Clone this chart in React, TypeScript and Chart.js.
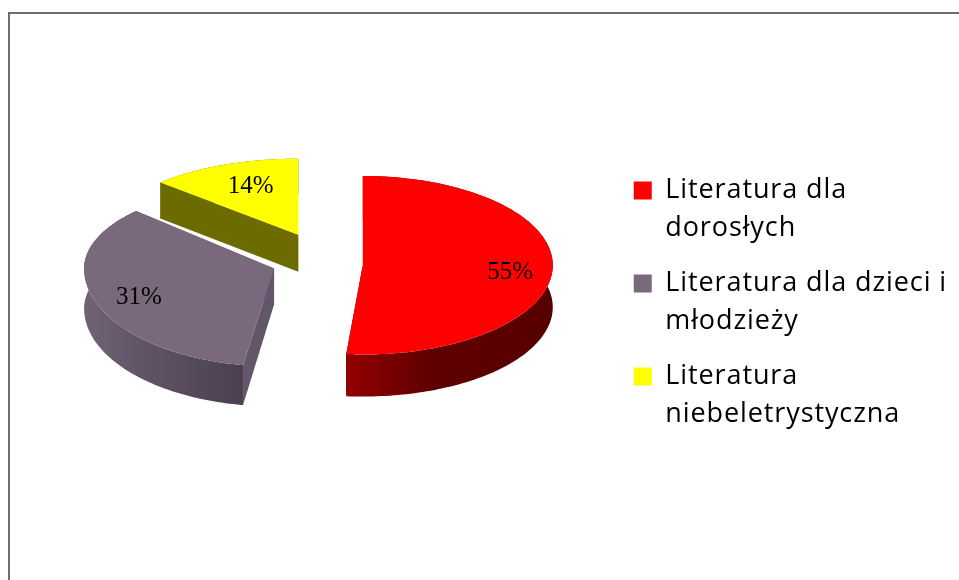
import React, { useEffect, useRef } from "react";
import { Chart, registerables } from "chart.js";

Chart.register(...registerables);

const categories = [
  ["Literatura dla", "dorosłych"],
  ["Literatura dla dzieci i", "młodzieży"],
  ["Literatura", "niebeletrystyczna"],
];
const shares = [55, 31, 14];
const topColors = ["#ff0000", "#7a697c", "#ffff00"];
const cutColors = ["#2a0000", "#62566a", "#6b6b00"];
const wallStart = ["#930000", "#706375", "#6b6b00"];
const wallMiddle = ["#600000", "#5f5264", "#6b6b00"];
const wallEnd = ["#560000", "#4a4050", "#6b6b00"];
const explode = [48, 43, 40];
const backSquash = [0.47, 0.44, 0.4];
const frontSquash = [0.47, 0.516, 0.47];
const labelRadius = [0.78, 0.77, 0.68];
const skewDeg = [4.7, 2.9, 3];
const twistDeg = [6.5, 5, 5];
const rimDepth = [42, 40, 36];
const apexDepth = [40, 36, 37];

const CENTER_SHIFT_Y = -48;
const OFFSET_SQUASH = 0.7;

const fakePie3d = {
  id: "fakePie3d",
  beforeDatasetsDraw(chart: any) {
    const ctx = chart.ctx;
    const arcs = chart.getDatasetMeta(0).data;
    const total = shares.reduce((a, b) => a + b, 0);
    const rad = Math.PI / 180;

    const model = (i: number) => {
      const a = arcs[i];
      const mid = (a.startAngle + a.endAngle) / 2;
      const ax = a.x + Math.cos(mid) * explode[i];
      const ay = a.y + CENTER_SHIFT_Y + Math.sin(mid) * explode[i] * OFFSET_SQUASH;
      const project = (angle: number, r = 1) => {
        const t = angle + Math.PI / 2;
        const w = t - skewDeg[i] * rad * (1 - Math.cos(t)) - twistDeg[i] * rad * Math.sin(2 * t);
        const up = -Math.cos(w);
        const sq = up < 0 ? backSquash[i] : frontSquash[i];
        return { x: ax + Math.sin(w) * a.outerRadius * r, y: ay + up * a.outerRadius * sq * r };
      };
      const rim: { x: number; y: number }[] = [];
      const steps = 120;
      for (let s = 0; s <= steps; s++) {
        rim.push(project(a.startAngle + ((a.endAngle - a.startAngle) * s) / steps));
      }
      return { a, mid, ax, ay, rim, project };
    };

    const poly = (pts: { x: number; y: number }[], fill: any) => {
      ctx.beginPath();
      pts.forEach((p, k) => (k ? ctx.lineTo(p.x, p.y) : ctx.moveTo(p.x, p.y)));
      ctx.closePath();
      ctx.fillStyle = fill;
      ctx.fill();
    };

    ctx.save();
    ctx.letterSpacing = "0px";
    [2, 1, 0].forEach((i) => {
      const { ax, ay, rim } = model(i);
      const apex = { x: ax, y: ay };
      const down = (p: { x: number; y: number }) => ({ x: p.x, y: p.y + rimDepth[i] });
      const apexLow = { x: ax, y: ay + apexDepth[i] };
      const first = rim[0];
      const last = rim[rim.length - 1];
      poly([apex, first, down(first), apexLow], cutColors[i]);
      poly([apex, last, down(last), apexLow], cutColors[i]);
      const front = rim.filter((p) => p.y > ay);
      const xs = (front.length ? front : rim).map((p) => p.x);
      const grad = ctx.createLinearGradient(Math.min(...xs), 0, Math.max(...xs), 0);
      grad.addColorStop(0, wallStart[i]);
      grad.addColorStop(0.4, wallMiddle[i]);
      grad.addColorStop(1, wallEnd[i]);
      poly([...rim, ...rim.map(down).reverse()], grad);
      poly([apex, ...rim], topColors[i]);
    });

    ctx.fillStyle = "#000000";
    ctx.font = '25px "Liberation Serif"';
    ctx.textAlign = "center";
    ctx.textBaseline = "middle";
    [0, 1, 2].forEach((i) => {
      const { mid, project } = model(i);
      const p = project(mid, labelRadius[i]);
      ctx.fillText(`${Math.round((shares[i] / total) * 100)}%`, p.x, p.y);
    });
    ctx.restore();
    return false;
  },
};

const legendSpacing = {
  id: "legendSpacing",
  beforeLayout(chart: any) {
    chart.ctx.letterSpacing = "0.9px";
  },
};

export default function App() {
  const ref = useRef<HTMLCanvasElement>(null);
  useEffect(() => {
    const chart = new Chart(ref.current as HTMLCanvasElement, {
      type: "pie",
      data: {
        labels: categories as any,
        datasets: [{ data: shares, backgroundColor: topColors, borderWidth: 0 }],
      },
      options: {
        responsive: false,
        animation: false,
        radius: 190,
        layout: { padding: { left: 14, right: 2, top: 36, bottom: 0 } },
        plugins: {
          tooltip: { enabled: false },
          legend: {
            position: "right",
            align: "center",
            labels: {
              boxWidth: 18,
              boxHeight: 18,
              padding: 17,
              color: "#000000",
              font: { family: '"Open Sans"', size: 27, lineHeight: 38 / 27 },
            },
          },
        },
      } as any,
      plugins: [fakePie3d as any, legendSpacing as any],
    });
    return () => chart.destroy();
  }, []);
  return (
    <div style={{ position: "fixed", left: 0, top: 0, width: 959, height: 580, overflow: "hidden", background: "#fff" }}>
      <div
        style={{
          position: "absolute",
          left: 8,
          top: 12,
          width: 980,
          height: 600,
          borderTop: "2px solid #6e6e6e",
          borderLeft: "2px solid #6e6e6e",
        }}
      />
      <canvas ref={ref} width={959} height={580} style={{ position: "absolute", left: 0, top: 0 }} />
    </div>
  );
}
